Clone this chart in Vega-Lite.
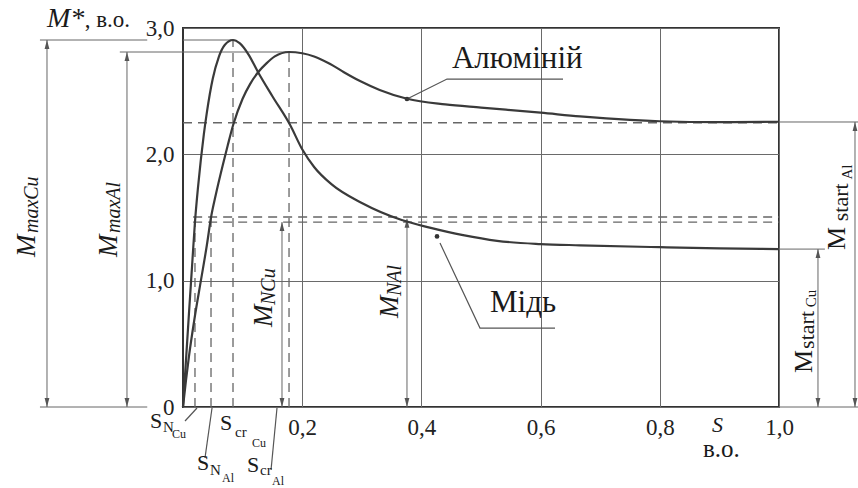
{
  "$schema": "https://vega.github.io/schema/vega-lite/v6.json",
  "width": 596,
  "height": 379,
  "autosize": {"type": "none"},
  "padding": {"left": 183, "top": 28, "right": 79, "bottom": 81},
  "background": "white",
  "config": {
    "view": {"stroke": "#333", "strokeWidth": 2},
    "axis": {"gridColor": "#6a6a6a", "gridOpacity": 1, "gridWidth": 1, "ticks": false, "domain": false, "labelFont": "Liberation Serif, Times New Roman, DejaVu Serif, serif", "labelFontSize": 23, "labelColor": "#222", "title": null},
    "text": {"font": "Liberation Serif, Times New Roman, DejaVu Serif, serif", "color": "#1a1a1a", "align": "left", "baseline": "alphabetic"}
  },
  "datasets": {
    "curves": [
      {"metal": "Cu", "s": 0, "M": 0}, {"metal": "Cu", "s": 0.005, "M": 0.37}, {"metal": "Cu", "s": 0.01, "M": 0.74}, {"metal": "Cu", "s": 0.015, "M": 1.1}, {"metal": "Cu", "s": 0.02, "M": 1.46}, {"metal": "Cu", "s": 0.025, "M": 1.73}, {"metal": "Cu", "s": 0.03, "M": 1.96}, {"metal": "Cu", "s": 0.035, "M": 2.16}, {"metal": "Cu", "s": 0.04, "M": 2.33}, {"metal": "Cu", "s": 0.05, "M": 2.6}, {"metal": "Cu", "s": 0.06, "M": 2.77}, {"metal": "Cu", "s": 0.07, "M": 2.865}, {"metal": "Cu", "s": 0.084, "M": 2.905}, {"metal": "Cu", "s": 0.095, "M": 2.88}, {"metal": "Cu", "s": 0.11, "M": 2.79}, {"metal": "Cu", "s": 0.126, "M": 2.65}, {"metal": "Cu", "s": 0.15, "M": 2.46}, {"metal": "Cu", "s": 0.18, "M": 2.23}, {"metal": "Cu", "s": 0.2, "M": 2.04}, {"metal": "Cu", "s": 0.22, "M": 1.9}, {"metal": "Cu", "s": 0.25, "M": 1.76}, {"metal": "Cu", "s": 0.3, "M": 1.615}, {"metal": "Cu", "s": 0.367, "M": 1.48}, {"metal": "Cu", "s": 0.414, "M": 1.42}, {"metal": "Cu", "s": 0.47, "M": 1.36}, {"metal": "Cu", "s": 0.527, "M": 1.315}, {"metal": "Cu", "s": 0.6, "M": 1.29}, {"metal": "Cu", "s": 0.666, "M": 1.28}, {"metal": "Cu", "s": 0.8, "M": 1.265}, {"metal": "Cu", "s": 0.9, "M": 1.255}, {"metal": "Cu", "s": 1.0, "M": 1.25},
      {"metal": "Al", "s": 0, "M": 0}, {"metal": "Al", "s": 0.005, "M": 0.21}, {"metal": "Al", "s": 0.01, "M": 0.4}, {"metal": "Al", "s": 0.02, "M": 0.72}, {"metal": "Al", "s": 0.03, "M": 1.0}, {"metal": "Al", "s": 0.04, "M": 1.28}, {"metal": "Al", "s": 0.047, "M": 1.5}, {"metal": "Al", "s": 0.055, "M": 1.68}, {"metal": "Al", "s": 0.067, "M": 1.92}, {"metal": "Al", "s": 0.075, "M": 2.07}, {"metal": "Al", "s": 0.084, "M": 2.23}, {"metal": "Al", "s": 0.1, "M": 2.44}, {"metal": "Al", "s": 0.113, "M": 2.56}, {"metal": "Al", "s": 0.126, "M": 2.65}, {"metal": "Al", "s": 0.14, "M": 2.72}, {"metal": "Al", "s": 0.154, "M": 2.775}, {"metal": "Al", "s": 0.178, "M": 2.81}, {"metal": "Al", "s": 0.2, "M": 2.8}, {"metal": "Al", "s": 0.22, "M": 2.775}, {"metal": "Al", "s": 0.247, "M": 2.715}, {"metal": "Al", "s": 0.27, "M": 2.65}, {"metal": "Al", "s": 0.297, "M": 2.58}, {"metal": "Al", "s": 0.33, "M": 2.51}, {"metal": "Al", "s": 0.376, "M": 2.44}, {"metal": "Al", "s": 0.44, "M": 2.395}, {"metal": "Al", "s": 0.5, "M": 2.37}, {"metal": "Al", "s": 0.6, "M": 2.33}, {"metal": "Al", "s": 0.666, "M": 2.3}, {"metal": "Al", "s": 0.75, "M": 2.272}, {"metal": "Al", "s": 0.8, "M": 2.262}, {"metal": "Al", "s": 0.9, "M": 2.255}, {"metal": "Al", "s": 1.0, "M": 2.258}
    ],
    "dashH": [
      {"s": 0, "s2": 1, "M": 2.25},
      {"s": 0.017, "s2": 1, "M": 1.504},
      {"s": 0.017, "s2": 1, "M": 1.464}
    ],
    "dashV": [
      {"s": 0.0201, "M": 0, "M2": 1.464},
      {"s": 0.047, "M": 0, "M2": 1.504},
      {"s": 0.0839, "M": 0, "M2": 2.905},
      {"s": 0.1779, "M": 0, "M2": 2.81}
    ],
    "refH": [
      {"s": -0.24, "s2": -0.06, "M": 2.905},
      {"s": 0, "s2": 0.0839, "M": 2.905},
      {"s": -0.106, "s2": 0.1779, "M": 2.81},
      {"s": -0.24, "s2": -0.06, "M": 0},
      {"s": 1, "s2": 1.133, "M": 0},
      {"s": 1, "s2": 1.133, "M": 2.256},
      {"s": 1, "s2": 1.077, "M": 1.25}
    ],
    "arrows": [
      {"s": -0.2282, "M": 0, "M2": 2.905},
      {"s": -0.094, "M": 0, "M2": 2.81},
      {"s": 0.1661, "M": 0, "M2": 1.464},
      {"s": 0.3758, "M": 0, "M2": 1.49},
      {"s": 1.0654, "M": 0, "M2": 1.25},
      {"s": 1.1275, "M": 0, "M2": 2.256}
    ],
    "leaders": [
      {"id": "Al", "o": 1, "s": 0.3758, "M": 2.438}, {"id": "Al", "o": 2, "s": 0.443, "M": 2.596}, {"id": "Al", "o": 3, "s": 0.6376, "M": 2.596},
      {"id": "Cu", "o": 1, "s": 0.4312, "M": 1.298}, {"id": "Cu", "o": 2, "s": 0.4983, "M": 0.625}, {"id": "Cu", "o": 3, "s": 0.6242, "M": 0.625},
      {"id": "SNCu", "o": 1, "s": 0.0235, "M": -0.008}, {"id": "SNCu", "o": 2, "s": 0.0034, "M": -0.111},
      {"id": "SNAl", "o": 1, "s": 0.0487, "M": -0.008}, {"id": "SNAl", "o": 2, "s": 0.0369, "M": -0.404},
      {"id": "SCrAl", "o": 1, "s": 0.1577, "M": -0.008}, {"id": "SCrAl", "o": 2, "s": 0.1477, "M": -0.499}
    ],
    "dots": [
      {"s": 0.3758, "M": 2.438},
      {"s": 0.4262, "M": 1.35}
    ],
    "bigText": [
      {"t": "Алюміній", "s": 0.4513, "M": 2.683},
      {"t": "Мідь", "s": 0.5151, "M": 0.752}
    ],
    "mstar": [{"t": "M*", "s": -0.2282, "M": 3.009}],
    "unitTop": [{"t": ", в.о.", "s": -0.165, "M": 3.009}],
    "unitBottom": [{"t": "в.о.", "s": 0.8725, "M": -0.396}],
    "sTitle": [{"t": "S", "s": 0.8876, "M": -0.198}],
    "sMain": [
      {"t": "S", "s": -0.0554, "M": -0.166},
      {"t": "S", "s": 0.0235, "M": -0.499},
      {"t": "S", "s": 0.0621, "M": -0.182},
      {"t": "S", "s": 0.1074, "M": -0.515}
    ],
    "sSub": [
      {"t": "N", "s": -0.0336, "M": -0.198},
      {"t": "N", "s": 0.0453, "M": -0.538},
      {"t": "cr", "s": 0.0872, "M": -0.237},
      {"t": "cr", "s": 0.1292, "M": -0.538}
    ],
    "sSub2": [
      {"t": "Cu", "s": -0.0185, "M": -0.245},
      {"t": "Al", "s": 0.0654, "M": -0.594},
      {"t": "Cu", "s": 0.1158, "M": -0.317},
      {"t": "Al", "s": 0.1493, "M": -0.617}
    ],
    "rotM": [
      {"t": "M", "s": -0.2483, "M": 1.187},
      {"t": "M", "s": -0.1107, "M": 1.187},
      {"t": "M", "s": 0.1493, "M": 0.633},
      {"t": "M", "s": 0.3607, "M": 0.705}
    ],
    "rotMsub": [
      {"t": "maxCu", "s": -0.2433, "M": 1.377},
      {"t": "maxAl", "s": -0.1057, "M": 1.377},
      {"t": "NCu", "s": 0.1544, "M": 0.807},
      {"t": "NAl", "s": 0.3658, "M": 0.879}
    ],
    "rotU": [
      {"t": "M", "s": 1.1107, "M": 1.243},
      {"t": "M", "s": 1.0554, "M": 0.269}
    ],
    "rotU2": [
      {"t": "start", "s": 1.1158, "M": 1.47},
      {"t": "start", "s": 1.0587, "M": 0.46}
    ],
    "rotU3": [
      {"t": "Al", "s": 1.1225, "M": 1.80},
      {"t": "Cu", "s": 1.0621, "M": 0.79}
    ]
  },
  "encoding": {
    "x": {"field": "s", "type": "quantitative", "scale": {"domain": [0, 1], "nice": false, "zero": false},
      "axis": {"values": [0.2, 0.4, 0.6, 0.8, 1.0], "grid": true, "labelPadding": 9, "labelFlush": false, "labelOverlap": false, "labelExpr": "replace(format(datum.value, '.1f'), '.', ',')"}},
    "y": {"field": "M", "type": "quantitative", "scale": {"domain": [0, 3], "nice": false, "zero": false},
      "axis": {"values": [0, 1, 2, 3], "grid": true, "labelPadding": 9, "labelOverlap": false, "labelExpr": "datum.value == 0 ? '0' : replace(format(datum.value, '.1f'), '.', ',')"}}
  },
  "layer": [
    {"data": {"name": "dashH"}, "mark": {"type": "rule", "color": "#666", "strokeWidth": 1.3, "strokeDash": [9, 6]}, "encoding": {"x2": {"field": "s2"}}},
    {"data": {"name": "dashV"}, "mark": {"type": "rule", "color": "#666", "strokeWidth": 1.3, "strokeDash": [9, 6]}, "encoding": {"y2": {"field": "M2"}}},
    {"data": {"name": "refH"}, "mark": {"type": "rule", "color": "#666", "strokeWidth": 1}, "encoding": {"x2": {"field": "s2"}}},
    {"data": {"name": "arrows"}, "mark": {"type": "rule", "color": "#666", "strokeWidth": 1}, "encoding": {"y2": {"field": "M2"}}},
    {"data": {"name": "arrows"}, "mark": {"type": "point", "shape": "M0,0L-0.8,3L0.8,3Z", "size": 36, "filled": true, "color": "#555", "opacity": 1}, "encoding": {"y": {"field": "M2", "type": "quantitative", "title": null}}},
    {"data": {"name": "arrows"}, "mark": {"type": "point", "shape": "M0,0L-0.8,-3L0.8,-3Z", "size": 36, "filled": true, "color": "#555", "opacity": 1}},
    {"data": {"name": "leaders"}, "mark": {"type": "line", "color": "#555", "strokeWidth": 1.2}, "encoding": {"detail": {"field": "id"}, "order": {"field": "o"}}},
    {"data": {"name": "dots"}, "mark": {"type": "point", "shape": "circle", "size": 22, "filled": true, "color": "#333", "opacity": 1}},
    {"data": {"name": "curves"}, "mark": {"type": "line", "color": "#3a3a3a", "strokeWidth": 2.2, "interpolate": "monotone"}, "encoding": {"detail": {"field": "metal"}}},
    {"data": {"name": "bigText"}, "mark": {"type": "text", "fontSize": 31}, "encoding": {"text": {"field": "t"}}},
    {"data": {"name": "mstar"}, "mark": {"type": "text", "fontSize": 28, "fontStyle": "italic"}, "encoding": {"text": {"field": "t"}}},
    {"data": {"name": "unitTop"}, "mark": {"type": "text", "fontSize": 23}, "encoding": {"text": {"field": "t"}}},
    {"data": {"name": "unitBottom"}, "mark": {"type": "text", "fontSize": 25}, "encoding": {"text": {"field": "t"}}},
    {"data": {"name": "sTitle"}, "mark": {"type": "text", "fontSize": 22, "fontStyle": "italic"}, "encoding": {"text": {"field": "t"}}},
    {"data": {"name": "sMain"}, "mark": {"type": "text", "fontSize": 22}, "encoding": {"text": {"field": "t"}}},
    {"data": {"name": "sSub"}, "mark": {"type": "text", "fontSize": 15}, "encoding": {"text": {"field": "t"}}},
    {"data": {"name": "sSub2"}, "mark": {"type": "text", "fontSize": 12}, "encoding": {"text": {"field": "t"}}},
    {"data": {"name": "rotM"}, "mark": {"type": "text", "fontSize": 27, "fontStyle": "italic", "angle": 270}, "encoding": {"text": {"field": "t"}}},
    {"data": {"name": "rotMsub"}, "mark": {"type": "text", "fontSize": 20, "fontStyle": "italic", "angle": 270}, "encoding": {"text": {"field": "t"}}},
    {"data": {"name": "rotU"}, "mark": {"type": "text", "fontSize": 26, "angle": 270}, "encoding": {"text": {"field": "t"}}},
    {"data": {"name": "rotU2"}, "mark": {"type": "text", "fontSize": 22, "angle": 270}, "encoding": {"text": {"field": "t"}}},
    {"data": {"name": "rotU3"}, "mark": {"type": "text", "fontSize": 15, "angle": 270}, "encoding": {"text": {"field": "t"}}}
  ]
}
